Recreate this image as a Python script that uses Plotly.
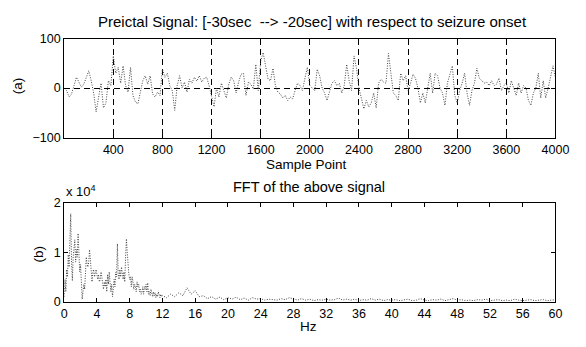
import plotly.graph_objects as go

# ---------------- data ----------------
sig_samples = list(range(0, 4001, 20))
sig_values = [
    0, -5, -18, -12, 5, 22, 12, 2, 8, 20, 35, 15, -10, -48, -20, 10, -40, -30, 15, 5,
    65, 30, 42, 10, 45, 5, -8, 42, -15, -28, -32, -5, 15, 25, 8, 25, -12, -18, -8, -15,
    38, 22, 30, 5, -5, -45, 5, 25, 0, 12, -8, 18, 10, 22, 14, 25, 12, 20, 22, 5,
    -15, -38, 0, -18, 10, -5, -20, 8, 22, 15, -10, 12, 28, 30, -15, 12, 8, -2, 48, -5,
    55, 72, 42, 18, 15, 40, 5, -8, -12, -20, -15, -25, -18, -22, -5, 10, 5, -5, 20, 42,
    5, 0, -5, 38, 25, 0, -10, -25, -5, 10, 15, 5, 10, -10, 5, 48, 15, -5, 65, 40,
    0, -20, -42, -25, -38, -30, -10, -40, 10, 18, 12, 10, 70, 30, -10, -15, -25, 30, 15, 25,
    -5, 10, 28, 20, 0, -30, -10, -30, 0, 30, -10, 30, 25, 0, -10, -35, 10, 30, 45, -15,
    -30, -5, 10, 30, -10, -35, -5, 10, 40, 20, 15, 10, 12, 5, 15, 5, 8, 20, -5, 5,
    10, -10, 15, 0, -15, 10, -10, 5, 0, -25, -35, -10, 0, 30, -20, 15, -20, 0, 25, 45,
    20,
]
sig_xticks = [400, 800, 1200, 1600, 2000, 2400, 2800, 3200, 3600, 4000]
sig_yticks = [-100, 0, 100]

fft_hz = [round(i * 0.1, 1) for i in range(120)] + [12 + 0.5 * i for i in range(97)]
fft_k = [
    1.0, 4.5, 2.0, 6.5, 5.0, 9.5, 7.0, 13.0, 17.8, 8.0,
    4.2, 9.0, 11.0, 12.5, 8.0, 10.5, 9.0, 13.8, 10.0, 6.0,
    7.5, 3.0, 0.5, 2.0, 3.5, 2.5, 6.0, 9.0, 7.5, 7.0,
    8.0, 10.5, 8.5, 5.5, 4.0, 6.0, 6.5, 5.0, 6.0, 6.5,
    5.5, 4.5, 5.5, 4.0, 4.5, 6.0, 5.0, 3.5, 2.5, 4.0,
    3.0, 4.5, 2.0, 5.5, 3.5, 6.0, 4.0, 2.0, 3.5, 1.0,
    2.5, 4.5, 3.0, 6.0, 5.0, 11.7, 5.5, 4.5, 6.5, 5.0,
    7.0, 5.5, 4.5, 6.0, 4.0, 9.0, 12.7, 10.0, 7.0, 5.5,
    4.5, 5.0, 3.0, 5.0, 4.0, 2.5, 3.5, 3.0, 2.0, 4.0,
    3.0, 3.5, 2.0, 2.5, 1.5, 2.0, 3.0, 1.5, 3.0, 2.5,
    3.5, 2.0, 3.8, 1.5, 2.0, 1.2, 2.5, 1.5, 1.0, 2.0,
    1.2, 1.8, 0.8, 1.5, 1.0, 2.0, 1.2, 0.8, 1.5, 1.0,
    # 12 .. 60 Hz, 0.5 Hz steps
    1.2, 0.8, 1.5, 1.0, 1.8, 1.2, 2.8, 1.5, 2.2, 1.0,
    1.2, 0.6, 1.0, 0.5, 0.9, 0.4, 0.8, 0.5, 0.9, 0.4,
    0.7, 0.3, 0.8, 0.5, 0.6, 0.3, 0.5, 0.4, 0.3, 0.6,
    0.4, 0.8, 0.5, 0.3, 0.6, 0.3, 0.5, 0.2, 0.4, 0.3,
    0.5, 0.3, 0.4, 0.7, 0.3, 0.5, 0.3, 0.5, 0.2, 0.4,
    0.3, 0.6, 0.3, 0.5, 0.2, 0.4, 0.3, 0.4, 0.2, 0.3,
    0.5, 0.2, 0.3, 0.6, 0.3, 0.2, 0.4, 0.3, 0.5, 0.2,
    0.4, 0.6, 0.3, 0.4, 0.2, 0.3, 0.2, 0.4, 0.3, 0.5,
    0.2, 0.3, 0.4, 0.2, 0.3, 0.2, 0.5, 0.3, 0.2, 0.3,
    0.4, 0.2, 0.3, 0.4, 0.2, 0.3, 0.4,
]
fft_values = [v * 1000 for v in fft_k]
fft_xticks = list(range(0, 61, 4))
fft_yticks = [0, 10000, 20000]
fft_yticktext = ["0", "1", "2"]

# ---------------- figure ----------------
W, H = 586, 347
FONT = "Liberation Sans, Arial, sans-serif"


def px_x(p):
    return p / W


def px_y(p):
    return 1 - p / H


fig = go.Figure()
fig.add_trace(go.Scatter(x=sig_samples, y=sig_values, mode="lines",
                         line=dict(color="#444444", width=1, dash="1px,1.5px"),
                         xaxis="x", yaxis="y", showlegend=False))
fig.add_trace(go.Scatter(x=fft_hz, y=fft_values, mode="lines",
                         line=dict(color="#444444", width=1, dash="1px,1.5px"),
                         xaxis="x2", yaxis="y2", showlegend=False))

axis_common = dict(showline=True, linecolor="black", linewidth=1, mirror="ticks",
                   ticks="inside", ticklen=4, tickcolor="black", zeroline=False,
                   tickfont=dict(family=FONT, size=12.5, color="black"))
xdom = [px_x(63), px_x(569)]

fig.update_layout(
    width=W, height=H, margin=dict(l=0, r=0, t=0, b=0),
    paper_bgcolor="white", plot_bgcolor="white",
    font=dict(family=FONT, size=12, color="black"),
    xaxis=dict(domain=xdom, anchor="y", range=[0, 4000], tickvals=sig_xticks,
               showgrid=True, gridcolor="black", gridwidth=1, griddash="6px,4px",
               **axis_common),
    yaxis=dict(domain=[px_y(136), px_y(33)], anchor="x", range=[-100, 100],
               tickvals=sig_yticks, showgrid=True, gridcolor="black", gridwidth=1,
               griddash="6px,4px", **axis_common),
    xaxis2=dict(domain=xdom, anchor="y2", range=[0, 60], tickvals=fft_xticks,
                showgrid=False, **axis_common),
    yaxis2=dict(domain=[px_y(307), px_y(204)], anchor="x2", range=[0, 20000],
                tickvals=fft_yticks, ticktext=fft_yticktext, showgrid=False,
                **axis_common),
)

ann = [
    dict(text="Preictal Signal: [-30sec\u00a0\u00a0--> -20sec] with respect to seizure onset",
         x=px_x(319), y=px_y(15), size=15),
    dict(text="Sample Point", x=px_x(313), y=px_y(164), size=13.5),
    dict(text="FFT of the above signal", x=px_x(315), y=px_y(188), size=14.5),
    dict(text="Hz", x=px_x(315), y=px_y(333), size=13.5),
    dict(text="(a)", x=px_x(15), y=px_y(82), textangle=-90, size=13.5),
    dict(text="(b)", x=px_x(37), y=px_y(257), textangle=-90, size=13.5),
    dict(text="x 10<sup>4</sup>", x=px_x(63), y=px_y(192), xanchor="left", size=13),
]
for a in ann:
    a.setdefault("xanchor", "center")
    size = a.pop("size")
    fig.add_annotation(xref="paper", yref="paper", showarrow=False, yanchor="middle",
                       font=dict(family=FONT, size=size, color="black"), **a)

fig.write_html("out.html", config={"displayModeBar": False},
               post_script="document.body.style.margin='0';")
